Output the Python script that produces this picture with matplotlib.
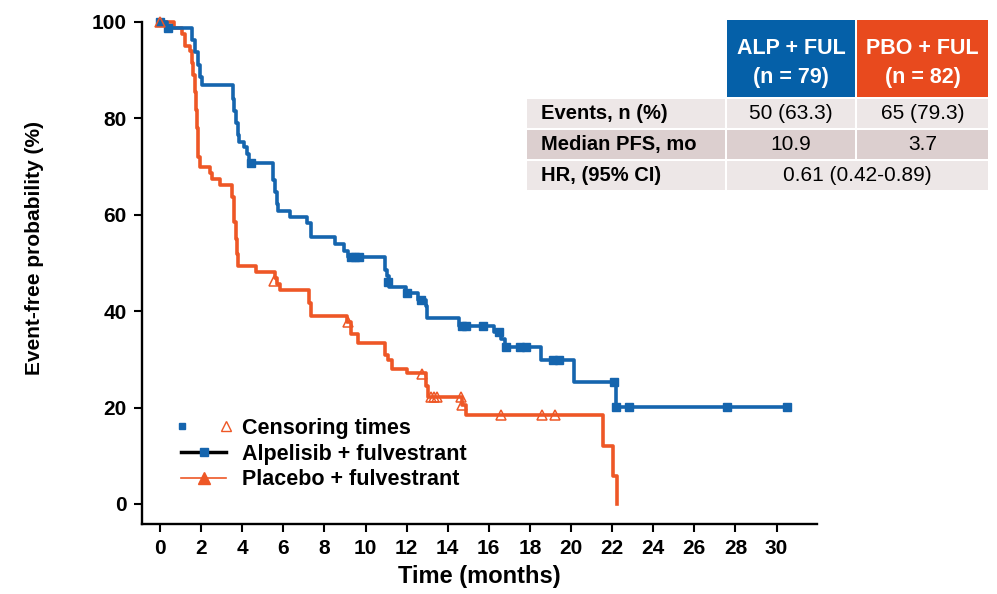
import matplotlib
matplotlib.use('Agg')
import matplotlib.pyplot as plt
from matplotlib.lines import Line2D
from matplotlib.patches import Rectangle
from matplotlib.legend_handler import HandlerTuple

plt.rcParams['font.family'] = ['Liberation Sans', 'DejaVu Sans']

# Alpelisib + fulvestrant: step start times (months) and event-free probability (%)
alp_t = [0, 0.35, 1.55, 1.7, 1.85, 1.95, 2.05, 3.55, 3.62, 3.7, 3.78, 3.85, 4.1, 4.25, 4.35,
         5.5, 5.58, 5.68, 5.75, 6.35, 7.15, 7.35, 8.5, 8.95, 9.15, 10.95, 11.05, 11.15, 11.95,
         12.55, 12.95, 13.0, 14.55, 16.25, 16.6, 16.8, 18.55, 20.15, 22.2, 30.5]
alp_s = [100, 98.7, 96.2, 93.7, 91.1, 88.6, 86.9, 84.1, 81.6, 79.0, 76.5, 75.2, 74.0, 72.7, 70.7,
         67.3, 64.8, 62.3, 60.7, 59.5, 58.2, 55.4, 54.0, 52.5, 51.2, 48.6, 47.4, 45.0, 43.7,
         42.4, 41.1, 38.6, 36.9, 35.6, 34.3, 32.6, 29.8, 25.4, 20.2, 20.2]
alp_cens_t = [0, 0.4, 4.45, 9.3, 9.5, 9.7, 11.1, 12.0, 12.7, 14.7, 14.9, 15.7, 16.5, 16.85,
              17.5, 17.8, 19.1, 19.4, 22.1, 22.2, 22.8, 27.6, 30.5]
alp_cens_s = [100, 98.7, 70.7, 51.2, 51.2, 51.2, 46.1, 43.7, 42.4, 36.9, 36.9, 36.9, 35.6, 32.6,
              32.6, 32.6, 29.8, 29.8, 25.4, 20.2, 20.2, 20.2, 20.2]

# Placebo + fulvestrant
pbo_t = [0, 0.7, 1.07, 1.2, 1.45, 1.55, 1.62, 1.68, 1.73, 1.78, 1.84, 1.94, 2.45, 2.55, 2.92,
         3.5, 3.6, 3.7, 3.75, 3.8, 4.65, 5.6, 5.7, 5.85, 7.25, 7.35, 9.1, 9.3, 9.65, 10.95,
         11.1, 11.3, 12.0, 12.95, 13.05, 14.7, 14.9, 21.55, 22.05, 22.25, 22.25]
pbo_s = [100, 98.8, 97.6, 95.1, 93.9, 91.5, 89.0, 85.4, 81.7, 78.0, 72.0, 69.9, 68.7, 67.5, 66.2,
         63.6, 58.6, 54.9, 51.8, 49.4, 48.2, 46.9, 45.7, 44.3, 41.7, 39.0, 37.7, 35.2, 33.5, 30.9,
         29.8, 28.1, 27.1, 24.4, 22.2, 20.5, 18.4, 12.0, 5.8, 0, 0]
pbo_cens_t = [0, 5.55, 9.15, 12.75, 13.2, 13.35, 13.5, 14.65, 14.7, 16.6, 18.6, 19.2]
pbo_cens_s = [100, 46.3, 37.7, 26.9, 22.2, 22.2, 22.2, 22.2, 20.5, 18.4, 18.4, 18.4]

x_ticks = list(range(0, 31, 2))
y_ticks = [0, 20, 40, 60, 80, 100]

header_top = ['ALP + FUL', 'PBO + FUL']
header_n = ['(n = 79)', '(n = 82)']
row_labels = ['Events, n (%)', 'Median PFS, mo', 'HR, (95% CI)']
alp_vals = ['50 (63.3)', '10.9']
pbo_vals = ['65 (79.3)', '3.7']
hr_text = '0.61 (0.42-0.89)'

blue = '#1565ae'
orange = '#ee5726'
hdr_blue = '#0560a8'
hdr_red = '#e84a1e'
row_light = '#ede7e7'
row_mid = '#dccfcf'

W, H = 997, 594
fig = plt.figure(figsize=(W / 100, H / 100), dpi=100)
ax = fig.add_axes([142 / W, 1 - 524 / H, (817 - 142) / W, (524 - 15) / H])

ax.step(alp_t, alp_s, where='post', color=blue, lw=2.6, zorder=3)
ax.step(pbo_t, pbo_s, where='post', color=orange, lw=2.6, zorder=2)
ax.plot(alp_cens_t, alp_cens_s, ls='none', marker='s', ms=5.5, color=blue, zorder=4)
ax.plot(pbo_cens_t, pbo_cens_s, ls='none', marker='^', ms=6.5, mfc='none', mec=orange, mew=1.1, zorder=4)

ax.set_xlim(-0.876, 31.97)
ax.set_ylim(-4.15, 101.45)
ax.spines['top'].set_visible(False)
ax.spines['right'].set_visible(False)
ax.spines['left'].set_bounds(-4.15, 100)
for sp in ('left', 'bottom'):
    ax.spines[sp].set_linewidth(1.7)
ax.set_xticks(x_ticks)
ax.set_yticks(y_ticks)
ax.tick_params(axis='both', length=6, width=1.5, labelsize=15, pad=5)
for lab in ax.get_xticklabels() + ax.get_yticklabels():
    lab.set_fontweight('bold')

ax.set_xlabel('Time (months)', fontsize=17, fontweight='bold', labelpad=5)
ax.set_ylabel('Event-free probability (%)', fontsize=15, fontweight='bold')
ax.yaxis.set_label_coords(-0.145, 0.542)

# legend
h1 = (Line2D([], [], ls='none', marker='s', color=blue, ms=5),
      Line2D([], [], ls='none', marker='^', mfc='white', mec=orange, mew=1.0, ms=7))
h2 = Line2D([], [], color='black', lw=2.5, marker='s', mfc=blue, mec=blue, ms=6)
h3 = Line2D([], [], color=orange, lw=1.2, marker='^', mfc=orange, mec=orange, ms=9)
ax.legend([h1, h2, h3], ['Censoring times', 'Alpelisib + fulvestrant', 'Placebo + fulvestrant'],
          handler_map={tuple: HandlerTuple(ndivide=None, pad=2.0)},
          loc='upper left', bbox_to_anchor=(181 / W, 1 - 418 / H), bbox_transform=fig.transFigure,
          frameon=False, prop={'weight': 'bold', 'size': 15.5}, handlelength=2.1,
          handletextpad=0.75, labelspacing=0.22, borderpad=0, borderaxespad=0, numpoints=1)


# table drawn in figure pixel coordinates
def box(x0, y0, x1, y1, color):
    fig.add_artist(Rectangle((x0 / W, 1 - y1 / H), (x1 - x0) / W, (y1 - y0) / H,
                             transform=fig.transFigure, color=color, lw=0))


def txt(x, y, s, **kw):
    fig.text(x / W, 1 - y / H, s, ha=kw.pop('ha', 'center'), va='center', **kw)


cols = [(727, 855), (857, 988)]
rows = [(99, 128), (130, 159), (161, 190)]
for (x0, x1), c, top, n in zip(cols, [hdr_blue, hdr_red], header_top, header_n):
    box(x0, 20, x1, 97, c)
    txt((x0 + x1) / 2, 48, top, color='white', fontsize=15.5, fontweight='bold')
    txt((x0 + x1) / 2, 78, n, color='white', fontsize=15.5, fontweight='bold')

for i, ((y0, y1), lab) in enumerate(zip(rows, row_labels)):
    c = row_mid if i == 1 else row_light
    box(527, y0, 725, y1, c)
    txt(541, (y0 + y1) / 2, lab, ha='left', fontsize=14.5, fontweight='bold')
    if i < 2:
        for (x0, x1), v in zip(cols, [alp_vals[i], pbo_vals[i]]):
            box(x0, y0, x1, y1, c)
            txt((x0 + x1) / 2, (y0 + y1) / 2, v, fontsize=15)
    else:
        box(727, y0, 988, y1, c)
        txt((727 + 988) / 2, (y0 + y1) / 2, hr_text, fontsize=15)

fig.savefig('out.png', dpi=100)
